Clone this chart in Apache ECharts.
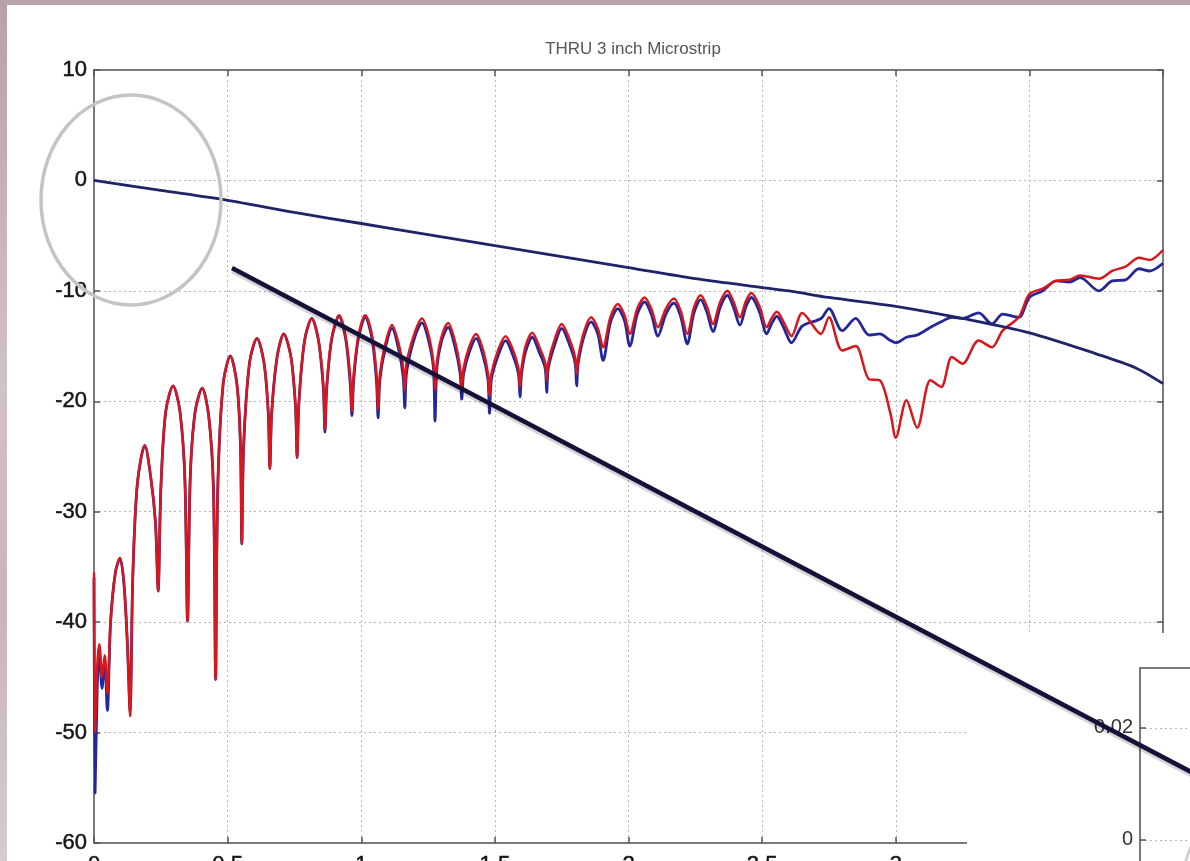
<!DOCTYPE html>
<html>
<head>
<meta charset="utf-8">
<script src="https://cdn.jsdelivr.net/npm/echarts@6/dist/echarts.min.js"></script>
<style>
  html, body { margin: 0; padding: 0; }
  body {
    width: 1190px; height: 861px; overflow: hidden; position: relative;
    background: linear-gradient(180deg, #b7a1ab 0%, #d3c1c8 45%, #c9b3bc 70%, #d8cad0 100%);
  }
  .sheet { position: absolute; left: 7px; top: 5px; right: 0; bottom: 0; background: #fff; }
  #chart { position: absolute; left: 0; top: 0; width: 1190px; height: 960px; }
</style>
</head>
<body>
<div class="sheet"></div>
<div id="chart"></div>
<script>
// frequency (GHz) axis ticks
const xTicks = [0, 0.5, 1, 1.5, 2, 2.5, 3, 3.5, 4];
const yTicks = [-60, -50, -40, -30, -20, -10, 0, 10];

// insertion loss (dark navy line)
const ilFreq = [0, 0.25, 0.5, 0.75, 1, 1.25, 1.5, 1.75, 2, 2.25, 2.5, 2.6, 2.75, 3, 3.25, 3.5, 3.75, 3.9, 4];
const ilDb = [0, -0.9, -1.8, -2.9, -3.9, -4.9, -5.9, -6.9, -7.9, -8.9, -9.7, -10.0, -10.6, -11.4, -12.5, -13.8, -15.7, -17.0, -18.4];

// return loss, shared frequency points for red and blue traces
const rlFreq = [
  0, 0.004, 0.012, 0.02, 0.03, 0.04, 0.05, 0.062, 0.08,
  0.097, 0.112, 0.125, 0.135,
  0.145, 0.162, 0.19, 0.213, 0.23, 0.24,
  0.25, 0.268, 0.296, 0.322, 0.34, 0.35,
  0.36, 0.378, 0.405, 0.43, 0.447, 0.455,
  0.463, 0.483, 0.51, 0.535, 0.548, 0.553,
  0.56, 0.582, 0.61, 0.636, 0.652, 0.658,
  0.665, 0.685, 0.71, 0.737, 0.754, 0.76,
  0.767, 0.788, 0.815, 0.84, 0.858, 0.864,
  0.871, 0.89, 0.917, 0.942, 0.959, 0.965,
  0.972, 0.99, 1.015, 1.04, 1.057, 1.063,
  1.07, 1.09, 1.115, 1.14, 1.157, 1.163,
  1.17, 1.2, 1.227, 1.252, 1.27, 1.276,
  1.283, 1.3, 1.325, 1.35, 1.37, 1.376,
  1.383, 1.405, 1.43, 1.455, 1.474, 1.48,
  1.487, 1.513, 1.54, 1.567, 1.588, 1.594,
  1.6, 1.615, 1.64, 1.665, 1.688, 1.694,
  1.7, 1.725, 1.75, 1.778, 1.8, 1.806,
  1.812, 1.835, 1.86, 1.885, 1.905,
  1.932, 1.96, 1.985, 2.005,
  2.033, 2.06, 2.085, 2.11,
  2.14, 2.17, 2.195, 2.22,
  2.245, 2.27, 2.293, 2.316,
  2.343, 2.37, 2.393, 2.417,
  2.44, 2.46, 2.49, 2.517,
  2.535, 2.555, 2.58, 2.61,
  2.65, 2.72, 2.75, 2.8, 2.85, 2.9, 2.94, 2.98, 3.0, 3.04,
  3.08, 3.13, 3.17, 3.21, 3.25, 3.31, 3.36, 3.4, 3.46, 3.5,
  3.55, 3.6, 3.65, 3.69, 3.76, 3.81, 3.86, 3.91, 3.95, 4.0
];
const rlRed = [
  -35.5, -50.0, -44.0, -42.0, -45.0, -43.0, -46.5, -40.0, -35.5,
  -34.2, -36.5, -42.0, -48.5,
  -36.0, -27.5, -24.0, -27.0, -31.0, -37.2,
  -28.0, -21.0, -18.6, -21.0, -27.0, -39.9,
  -27.0, -21.0, -18.8, -21.5, -28.0, -45.2,
  -28.0, -18.5, -15.9, -18.5, -24.0, -32.9,
  -24.0, -16.5, -14.3, -16.5, -21.0, -26.1,
  -21.0, -16.0, -13.9, -16.0, -20.5, -25.1,
  -20.0, -14.5, -12.5, -14.5, -18.5, -22.5,
  -18.5, -14.2, -12.2, -14.2, -18.0, -20.9,
  -17.5, -14.0, -12.2, -14.0, -17.5, -20.7,
  -17.5, -14.8, -13.1, -14.8, -17.0, -19.0,
  -16.5, -13.8, -12.5, -14.0, -16.5, -19.0,
  -16.5, -14.2, -12.9, -14.5, -17.0, -19.0,
  -17.0, -15.0, -13.9, -15.3, -17.5, -19.5,
  -17.5, -15.3, -14.1, -15.3, -17.0, -18.7,
  -17.0, -15.0, -13.8, -15.0, -16.5, -18.1,
  -16.5, -14.3, -13.0, -14.3, -16.0, -17.5,
  -16.0, -13.6, -12.4, -13.4, -15.1,
  -12.4, -11.2, -12.2, -13.9,
  -11.6, -10.6, -11.6, -13.3,
  -11.6, -10.7, -11.8, -13.9,
  -11.5, -10.4, -11.4, -13.0,
  -11.0, -10.0, -11.0, -12.4,
  -10.9, -10.2, -11.4, -13.3,
  -12.5, -11.9, -12.8, -14.1,
  -12.0, -13.9, -12.4, -15.4, -15.0, -18.0, -18.1, -21.1, -23.3, -19.9,
  -22.4, -18.1, -18.7, -16.0, -16.6, -14.5, -15.1, -13.6, -12.4, -10.3,
  -9.8, -9.1, -9.0, -8.6, -8.9, -8.2, -7.8, -7.0, -7.2, -6.3
];
const rlBlue = [
  -36.0, -55.5, -46.0, -42.5, -46.0, -43.5, -48.0, -40.0, -35.5,
  -34.2, -36.5, -42.0, -48.0,
  -36.0, -27.5, -24.0, -27.0, -31.0, -37.2,
  -28.0, -21.0, -18.6, -21.0, -27.0, -39.9,
  -27.0, -21.0, -18.8, -21.5, -28.0, -45.2,
  -28.0, -18.5, -15.9, -18.5, -24.0, -32.9,
  -24.0, -16.5, -14.3, -16.5, -21.0, -26.1,
  -21.0, -16.0, -13.9, -16.0, -20.5, -25.1,
  -20.0, -14.5, -12.5, -14.5, -18.8, -22.8,
  -18.8, -14.3, -12.3, -14.4, -18.5, -21.3,
  -18.0, -14.2, -12.4, -14.3, -18.2, -21.5,
  -18.0, -15.2, -13.4, -15.3, -17.8, -20.6,
  -17.3, -14.2, -12.9, -14.5, -17.0, -21.8,
  -17.0, -14.6, -13.3, -15.0, -17.5, -19.8,
  -17.5, -15.5, -14.3, -15.8, -18.0, -21.1,
  -18.0, -15.8, -14.5, -15.8, -17.5, -19.6,
  -17.5, -15.5, -14.2, -15.5, -17.0, -19.2,
  -17.0, -14.8, -13.4, -14.8, -16.5, -18.6,
  -16.5, -14.0, -12.8, -13.9, -16.3,
  -12.9, -11.6, -12.7, -15.0,
  -12.1, -11.0, -12.1, -14.1,
  -12.1, -11.1, -12.3, -14.8,
  -12.0, -10.8, -11.9, -13.7,
  -11.5, -10.4, -11.5, -13.1,
  -11.4, -10.6, -11.9, -13.9,
  -13.0, -12.3, -13.3, -14.7,
  -13.2, -12.5, -11.6, -13.6, -12.5, -14.0, -13.9, -14.5, -14.7, -14.2,
  -14.0, -13.3, -12.8, -12.4, -12.5, -12.0, -13.0, -12.1, -12.4, -10.6,
  -10.0, -9.1, -9.2, -8.8, -10.0, -9.1, -9.0, -8.0, -8.2, -7.5
];

// inset (partly hidden panel, bottom right)
const insetTicks = [-0.02, 0, 0.02];

const chart = echarts.init(document.getElementById("chart"), null, { renderer: "canvas" });
const font = "Liberation Sans, Arial, sans-serif";
const dotted = { type: [2, 3], color: "#b5b5b5", width: 1 };
const frame = { color: "#7a7a7a", width: 2 };
const tick = { show: true, inside: true, length: 6, lineStyle: { color: "#555", width: 1.5 } };
const tickLabel = { fontFamily: font, fontSize: 22, color: "#151515", textBorderColor: "#151515", textBorderWidth: 0.5 };

const option = {
  animation: false,
  backgroundColor: "transparent",
  title: {
    text: "THRU 3 inch Microstrip",
    left: 628,
    top: 36,
    textAlign: "center",
    textStyle: { fontFamily: font, fontSize: 17, fontWeight: "normal", color: "#555" },
  },
  grid: [
    { left: 94, top: 70, width: 1069, height: 773, outerBoundsMode: "none" },
    { left: 1140, top: 668, width: 50, height: 284, outerBoundsMode: "none" },
  ],
  xAxis: [
    {
      gridIndex: 0, type: "value", position: "bottom",
      min: xTicks[0], max: xTicks[xTicks.length - 1], interval: 0.5,
      axisLine: { show: true, onZero: false, lineStyle: frame },
      axisTick: tick,
      axisLabel: { ...tickLabel, margin: 11 },
      splitLine: { show: true, lineStyle: dotted },
    },
    {
      gridIndex: 0, type: "value", position: "top",
      min: xTicks[0], max: xTicks[xTicks.length - 1], interval: 0.5,
      axisLine: { show: true, onZero: false, lineStyle: frame },
      axisTick: tick,
      axisLabel: { show: false },
      splitLine: { show: false },
    },
    {
      gridIndex: 1, type: "value", position: "top", z: 10,
      min: 0, max: 1,
      axisLine: { show: true, onZero: false, lineStyle: frame },
      axisTick: { show: false },
      axisLabel: { show: false },
      splitLine: { show: false },
    },
  ],
  yAxis: [
    {
      gridIndex: 0, type: "value", position: "left",
      min: yTicks[0], max: yTicks[yTicks.length - 1], interval: 10,
      axisLine: { show: true, onZero: false, lineStyle: frame },
      axisTick: tick,
      axisLabel: { ...tickLabel, margin: 7 },
      splitLine: { show: true, lineStyle: dotted },
    },
    {
      gridIndex: 0, type: "value", position: "right",
      min: yTicks[0], max: yTicks[yTicks.length - 1], interval: 10,
      axisLine: { show: true, onZero: false, lineStyle: frame },
      axisTick: tick,
      axisLabel: { show: false },
      splitLine: { show: false },
    },
    {
      gridIndex: 1, type: "value", position: "left", z: 10,
      min: insetTicks[0], max: 0.0307, interval: 0.02,
      axisLine: { show: true, onZero: false, lineStyle: frame },
      axisTick: tick,
      axisLabel: { fontFamily: font, fontSize: 20, color: "#333", margin: 7, showMaxLabel: false },
      splitLine: { show: true, lineStyle: dotted },
    },
  ],
  series: [
    {
      name: "S11 meas", type: "line", xAxisIndex: 0, yAxisIndex: 0,
      data: rlFreq.map((f, i) => [f, rlBlue[i]]),
      showSymbol: false, smooth: 0.3,
      lineStyle: { color: "#23279a", width: 2.8 },
      z: 2,
    },
    {
      name: "S11 model", type: "line", xAxisIndex: 0, yAxisIndex: 0,
      data: rlFreq.map((f, i) => [f, rlRed[i]]),
      showSymbol: false, smooth: 0.3,
      lineStyle: { color: "#d8161c", width: 2.5 },
      z: 3,
    },
    {
      name: "S21", type: "line", xAxisIndex: 0, yAxisIndex: 0,
      data: ilFreq.map((f, i) => [f, ilDb[i]]),
      showSymbol: false, smooth: 0.3,
      lineStyle: { color: "#1e2468", width: 2.8 },
      z: 4,
    },
  ],
  graphic: [
    // panel pasted over the lower right corner
    { type: "rect", z: 5, shape: { x: 967, y: 633, width: 240, height: 340 }, style: { fill: "#ffffff" } },
    // highlight ring around the low-frequency start
    { type: "ellipse", z: 20, shape: { cx: 131, cy: 200, rx: 90, ry: 105 },
      style: { fill: "none", stroke: "#c4c4c4", lineWidth: 3.5 } },
    { type: "ellipse", z: 20, shape: { cx: 1245, cy: 885, rx: 62, ry: 78 },
      style: { fill: "none", stroke: "#cfcfcf", lineWidth: 3 } },
    // pointer line
    { type: "line", z: 30, shape: { x1: 232, y1: 268, x2: 1195, y2: 774 },
      style: { stroke: "#16113a", lineWidth: 4.5, shadowColor: "rgba(0,0,0,0.18)", shadowOffsetY: 3, shadowBlur: 1 } },
  ],
};

chart.setOption(option);
</script>
</body>
</html>
